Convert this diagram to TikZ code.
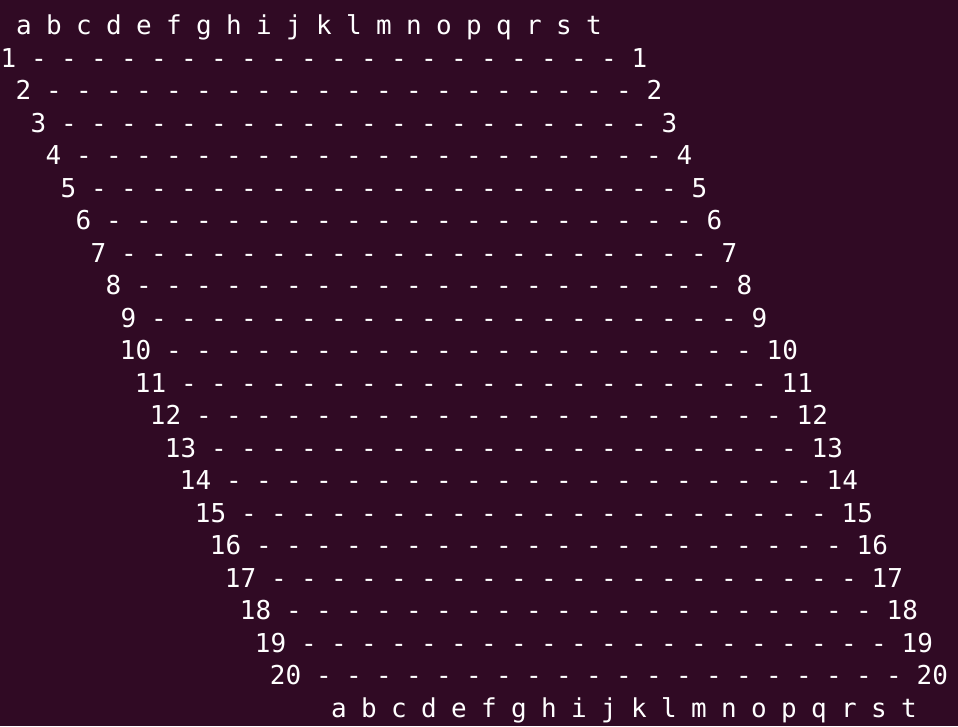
\documentclass[tikz,border=0pt]{standalone}
\usepackage{fontspec}
\setmonofont{DejaVu Sans Mono}
\definecolor{termbg}{RGB}{48,10,36}
\begin{document}
\begin{tikzpicture}[x=1pt,y=-1pt]
\tikzstyle{glyph}=[inner sep=0pt,anchor=base,text=white,font=\ttfamily\fontsize{26}{26}\selectfont]
\fill [termbg] (0,0) rectangle (958,726);
\useasboundingbox (0,0) rectangle (958,726);
% column letters above and below the board
\foreach \c [count=\i] in {a,b,c,d,e,f,g,h,i,j,k,l,m,n,o,p,q,r,s,t}
{
\node [glyph] (top\c) at ({9+15*(2*\i-1)},34.5) {\c};
\node [glyph] (bot\c) at ({9+15*(2*\i+20)},717) {\c};
}
% rows: number, twenty empty cells, number
\foreach \r in {1,...,20}
{
\pgfmathsetmacro\y{34.5+32.5*\r}
\node [glyph,anchor=base east] (left\r) at ({9+15*(\r-1)+7.5},\y) {\r};
\foreach \k in {1,...,20}
\node [glyph] (cell\r-\k) at ({9+15*(\r+2*\k-1)},\y) {-};
\node [glyph,anchor=base west] (right\r) at ({9+15*(\r+41)-7.5},\y) {\r};
}
\end{tikzpicture}
\end{document}
